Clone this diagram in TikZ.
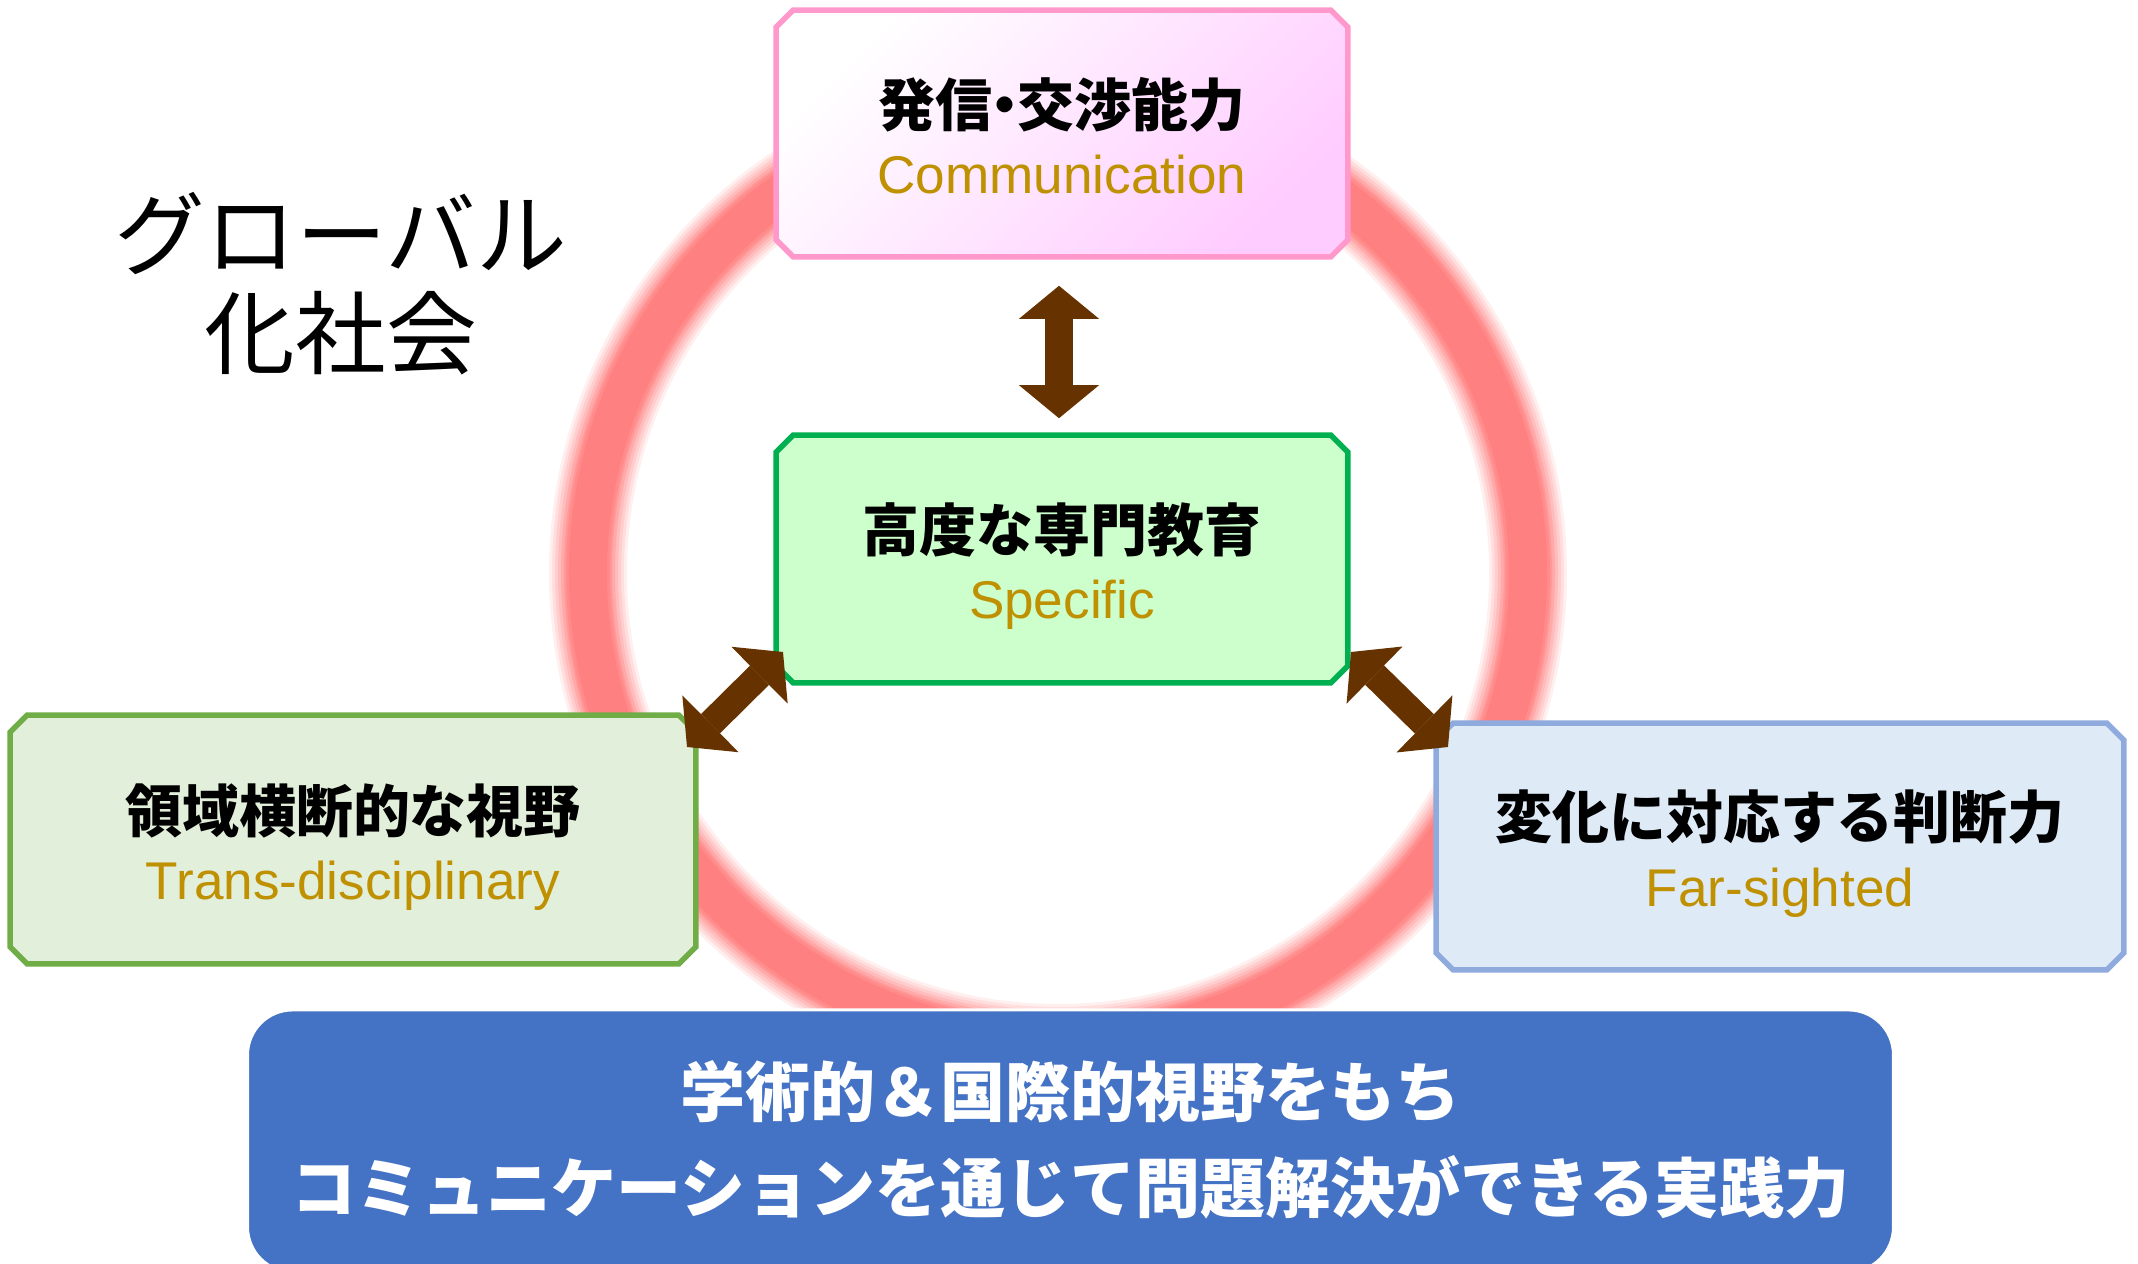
\documentclass[tikz,border=0pt]{standalone}
\usepackage{fontspec}
\setmainfont{Liberation Sans}
\newfontfamily\jp{Noto Sans CJK JP}
\usetikzlibrary{arrows.meta,calc}
\definecolor{ringred}{HTML}{FF8080}
\definecolor{pinkborder}{HTML}{FF99CC}
\definecolor{pinkfill}{HTML}{FFCCFF}
\definecolor{greenborder}{HTML}{00B050}
\definecolor{greenfill}{HTML}{CCFFCC}
\definecolor{lgborder}{HTML}{70AD47}
\definecolor{lgfill}{HTML}{E2EFDA}
\definecolor{lbborder}{HTML}{8FAADC}
\definecolor{lbfill}{HTML}{DEEBF7}
\definecolor{bluebox}{HTML}{4472C4}
\definecolor{brownarrow}{HTML}{663300}
\definecolor{gold}{HTML}{BF9000}
% chamfered outline around a named (invisible) rectangle node
\newcommand{\chamferbox}[2]{%
  \path[line width=0.055cm, #2]
    ($(#1.north west)+(17,0)$) -- ($(#1.north east)+(-17,0)$) --
    ($(#1.north east)+(0,17)$) -- ($(#1.south east)+(0,-17)$) --
    ($(#1.south east)+(-17,0)$) -- ($(#1.south west)+(17,0)$) --
    ($(#1.south west)+(0,-17)$) -- ($(#1.north west)+(0,17)$) -- cycle;}
\begin{document}
\begin{tikzpicture}[x=0.01cm,y=-0.01cm,
  box/.style={rectangle, inner sep=0pt},
  jpt/.style={font=\jp\bfseries\fontsize{16.2pt}{19pt}\selectfont, text=black, inner sep=0pt},
  ent/.style={font=\fontsize{15.1pt}{18pt}\selectfont, text=gold, anchor=base, inner sep=0pt},
  dbltip/.tip={Triangle[width=0.80cm,length=0.33cm,line width=0pt]},
  dbl/.style={draw=brownarrow, line width=0.27cm, dbltip-dbltip}
]
\useasboundingbox (0,0) rectangle (2138,1264);
\fill[white] (0,0) rectangle (2138,1264);
% blurred ring
\foreach \w/\o in {78/0.12,72/0.15,66/0.18,60/0.22,54/0.3,48/0.4,44/0.5}{
  \draw[ringred, line width=\w*0.01cm, opacity=\o] (1058,573) circle[radius=470];
}
\draw[ringred, line width=0.38cm] (1058,573) circle[radius=470];

% boxes
\node[box, minimum width=5.70cm, minimum height=2.45cm] (top) at (1062,133.5) {};
\chamferbox{top}{draw=pinkborder, top color=white, bottom color=pinkfill, shading angle=45}
\node[box, minimum width=5.70cm, minimum height=2.46cm] (center) at (1062,559) {};
\chamferbox{center}{draw=greenborder, fill=greenfill}
\node[box, minimum width=6.84cm, minimum height=2.47cm] (left) at (353,839.5) {};
\chamferbox{left}{draw=lgborder, fill=lgfill}
\node[box, minimum width=6.86cm, minimum height=2.45cm] (right) at (1780,846.5) {};
\chamferbox{right}{draw=lbborder, fill=lbfill}
\node[draw=white, line width=0.03cm, fill=bluebox, rounded corners=0.45cm,
  minimum width=16.45cm, minimum height=2.62cm, inner sep=0pt] (bottom) at (1070.5,1141) {};

% texts
\node[jpt] (toptxt) at ($(top.center)+(0,-29)$) {発信{\kern-0.28em}・{\kern-0.28em}交渉能力};
\node[ent] (topen) at ($(top.center)+(0,60)$) {Communication};
\node[jpt] (centertxt) at ($(center.center)+(0,-29)$) {高度な専門教育};
\node[ent] (centeren) at ($(center.center)+(0,60)$) {Specific};
\node[jpt] (lefttxt) at ($(left.center)+(0,-29)$) {領域横断的な視野};
\node[ent] (leften) at ($(left.center)+(0,60)$) {Trans-disciplinary};
\node[jpt] (righttxt) at ($(right.center)+(0,-29)$) {変化に対応する判断力};
\node[ent] (righten) at ($(right.center)+(0,60)$) {Far-sighted};

\node[font=\jp\bfseries\fontsize{18.5pt}{23pt}\selectfont, text=white, align=center, inner sep=0pt]
  (bottomtxt) at ($(bottom.center)+(0,-1)$) {学術的＆国際的視野をもち\\[0.15cm]コミュニケーションを通じて問題解決ができる実践力};

\node[font=\jp\fontsize{25.8pt}{28.2pt}\selectfont, align=center, inner sep=0pt]
  (title) at (341,284) {グローバル\\化社会};

% arrows
\coordinate (la) at (783,652);
\coordinate (lb) at (687,747);
\coordinate (ra) at (1351,652);
\coordinate (rb) at (1448,747);
\draw[dbl, shorten <=0.29cm, shorten >=0.17cm] ($(top.south)+(-3,0)$) -- ($(center.north)+(-3,0)$);
\draw[dbl] (la) -- (lb);
\draw[dbl] (ra) -- (rb);
\end{tikzpicture}
\end{document}
